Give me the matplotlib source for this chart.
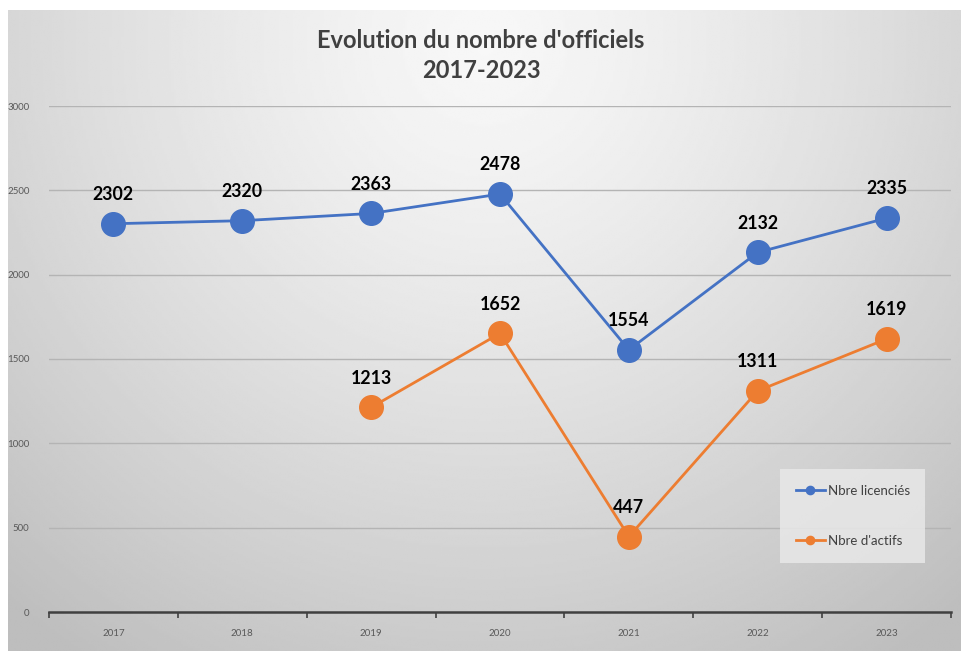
import numpy as np
import matplotlib
matplotlib.use("Agg")
import matplotlib.pyplot as plt

years = ["2017", "2018", "2019", "2020", "2021", "2022", "2023"]
licencies = [2302, 2320, 2363, 2478, 1554, 2132, 2335]
actifs = [None, None, 1213, 1652, 447, 1311, 1619]
yticks = [0, 500, 1000, 1500, 2000, 2500, 3000]

BLUE = "#4472C4"
ORANGE = "#ED7D31"

plt.rcParams["font.family"] = ["Lato", "DejaVu Sans"]

fig = plt.figure(figsize=(9.62, 6.51), dpi=100)
fig.patch.set_facecolor("white")

# gradient background (light top centre, darker edges)
bg = fig.add_axes([8 / 962, 0, 1 - 8 / 962, 1 - 10 / 651])
gx, gy = np.meshgrid(np.linspace(0, 1, 400), np.linspace(0, 1, 300))
d = np.sqrt(((gx - 0.5) / 0.7) ** 2 + ((gy - 0.05) / 1.05) ** 2)
shade = 0.97 - 0.2 * np.clip(d, 0, 1.1) ** 1.3
bg.imshow(shade, cmap="gray", vmin=0, vmax=1, aspect="auto",
          extent=[0, 1, 1, 0], interpolation="bilinear")
bg.set_xlim(0, 1)
bg.set_ylim(1, 0)
bg.axis("off")

ax = fig.add_axes([49 / 962, 39 / 651, (951 - 49) / 962, (612 - 106) / 651])
ax.patch.set_alpha(0)

x = np.arange(len(years))
ax.plot(x, licencies, color=BLUE, lw=2.0, marker="o", ms=17,
        label="Nbre licenciés", zorder=3)
xa = [i for i, v in enumerate(actifs) if v is not None]
va = [v for v in actifs if v is not None]
ax.plot(xa, va, color=ORANGE, lw=2.0, marker="o", ms=17,
        label="Nbre d'actifs", zorder=3)

for xi, v in zip(x, licencies):
    ax.annotate(str(v), (xi, v), xytext=(0, 21), textcoords="offset points",
                ha="center", va="center", fontsize=12.8, fontweight="bold",
                color="black")
for xi, v in zip(xa, va):
    ax.annotate(str(v), (xi, v), xytext=(0, 21), textcoords="offset points",
                ha="center", va="center", fontsize=12.8, fontweight="bold",
                color="black")

ax.set_xlim(-0.5, len(years) - 0.5)
ax.set_ylim(0, 3000)
ax.set_yticks(yticks)
ax.set_yticklabels([str(t) for t in yticks], fontsize=7, color="#595959")
ax.tick_params(axis="y", length=0, pad=14)
for t in yticks[1:]:
    ax.axhline(t, color="#b4b4b4", lw=1.0, zorder=1)

ax.set_xticks(x)
ax.set_xticklabels(years, fontsize=7, color="#595959")
ax.tick_params(axis="x", length=0, pad=12)
ax.set_xticks(np.arange(-0.5, len(years)), minor=True)
ax.tick_params(axis="x", which="minor", length=4, width=1.2, color="#404040",
               direction="out")

for s in ["top", "right", "left"]:
    ax.spines[s].set_visible(False)
ax.spines["bottom"].set_color("#404040")
ax.spines["bottom"].set_linewidth(1.8)

leg = ax.legend(loc="lower right", bbox_to_anchor=(0.979, 0.084),
                frameon=True, fontsize=9.5, labelspacing=2.9,
                handlelength=2.2, handletextpad=0.2, borderpad=1.2,
                markerscale=0.35)
leg.get_frame().set_facecolor("#e8e8e8")
leg.get_frame().set_edgecolor("none")
leg.get_frame().set_alpha(0.85)
leg.get_frame().set_boxstyle("square", pad=0)
for t in leg.get_texts():
    t.set_color("#404040")

fig.text(0.5, 1 - 41 / 651, "Evolution du nombre d'officiels", ha="center",
         va="center", fontsize=17, fontweight="bold", color="#404040")
fig.text(0.5, 1 - 71 / 651, "2017-2023", ha="center", va="center",
         fontsize=17, fontweight="bold", color="#404040")

fig.savefig("out.png", dpi=100)
